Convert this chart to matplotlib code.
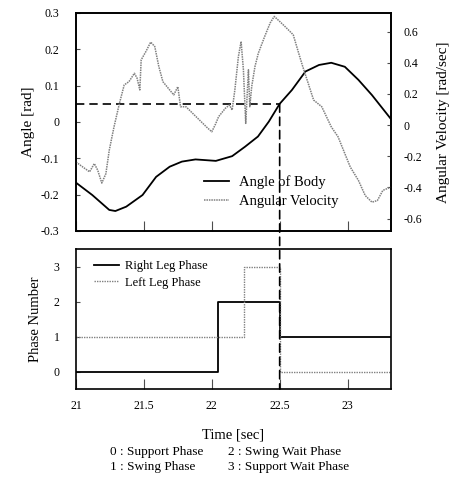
import matplotlib
matplotlib.use("Agg")
import matplotlib.pyplot as plt
from matplotlib.patches import ConnectionPatch

plt.rcParams['font.family'] = ['Liberation Serif', 'DejaVu Serif']
plt.rcParams['axes.unicode_minus'] = False

# Angle of body [rad]
angle_t = [21.0, 21.12, 21.245, 21.29, 21.37, 21.49, 21.59, 21.69, 21.78, 21.88,
           22.03, 22.15, 22.245, 22.34, 22.42, 22.50, 22.59, 22.69, 22.79, 22.88,
           22.98, 23.08, 23.18, 23.32]
angle_v = [-0.167, -0.201, -0.242, -0.245, -0.233, -0.201, -0.151, -0.123, -0.109, -0.103,
           -0.107, -0.094, -0.068, -0.040, 0.001, 0.050, 0.088, 0.139, 0.157, 0.163,
           0.152, 0.116, 0.074, 0.008]

# Angular velocity [rad/sec]
omega_t = [21.0, 21.05, 21.10, 21.135, 21.16, 21.19, 21.22, 21.245, 21.28, 21.32,
           21.355, 21.39, 21.43, 21.45, 21.47, 21.48, 21.515, 21.55, 21.58, 21.61,
           21.64, 21.67, 21.70, 21.72, 21.75, 21.77, 21.81, 21.86, 21.91, 21.96,
           22.0, 22.03, 22.05, 22.10, 22.13, 22.15, 22.17, 22.196, 22.216, 22.233,
           22.25, 22.27, 22.28, 22.294, 22.318, 22.343, 22.39, 22.43, 22.46, 22.50,
           22.55, 22.60, 22.64, 22.67, 22.71, 22.75, 22.81, 22.88, 22.93, 22.98,
           23.02, 23.08, 23.13, 23.18, 23.22, 23.26, 23.32]
omega_v = [-0.237, -0.269, -0.300, -0.247, -0.290, -0.372, -0.312, -0.161, -0.011, 0.140,
           0.258, 0.279, 0.333, 0.301, 0.226, 0.419, 0.473, 0.533, 0.505, 0.376,
           0.279, 0.247, 0.215, 0.194, 0.247, 0.118, 0.118, 0.075, 0.032, -0.011,
           -0.043, 0.011, 0.054, 0.108, 0.129, 0.097, 0.226, 0.440, 0.537, 0.355,
           0.011, 0.355, 0.118, 0.247, 0.376, 0.462, 0.570, 0.656, 0.698, 0.666,
           0.624, 0.580, 0.462, 0.376, 0.269, 0.161, 0.118, -0.011, -0.075, -0.183,
           -0.269, -0.355, -0.452, -0.495, -0.484, -0.419, -0.398]

# Phases (step changes)
right_t = [21.0, 22.046, 22.5, 23.32]
right_p = [0, 2, 1, 1]
left_t = [21.0, 22.24, 22.5, 23.32]
left_p = [1, 3, 0, 0]

marker_t = 22.5
marker_angle = 0.05

x_ticks = [21, 21.5, 22, 22.5, 23]
x_labels = ['21', '21.5', '22', '22.5', '23']
angle_ticks = [0.3, 0.2, 0.1, 0, -0.1, -0.2, -0.3]
angle_labels = ['0.3', '0.2', '0.1', '0', '-0.1', '-0.2', '-0.3']
omega_ticks = [0.6, 0.4, 0.2, 0, -0.2, -0.4, -0.6]
omega_labels = ['0.6', '0.4', '0.2', '0', '-0.2', '-0.4', '-0.6']
phase_ticks = [0, 1, 2, 3]

W, H = 463, 478
fig = plt.figure(figsize=(W / 100, H / 100), dpi=100)

def rect(l, t, r, b):
    return [l / W, 1 - b / H, (r - l) / W, (b - t) / H]

ax1 = fig.add_axes(rect(76, 13, 391, 231))
ax1r = ax1.twinx()
ax2 = fig.add_axes(rect(76, 249, 391, 389))

xmin, xmax = 21.0, 23.32
gray = '0.5'

# Top panel
l1, = ax1.plot(angle_t, angle_v, color='black', lw=1.3, label='Angle of Body')
l2, = ax1r.plot(omega_t, omega_v, color=gray, lw=1.1, ls=(0, (1, 0.6)), label='Angular Velocity')
ax1.plot([xmin, marker_t], [marker_angle, marker_angle], color='black', lw=1.2, ls=(0, (5, 3)))

ax1.set_xlim(xmin, xmax)
ax1.set_ylim(-0.3, 0.3)
ax1r.set_ylim(-0.68, 0.72)
ax1.set_xticks(x_ticks)
ax1.set_xticklabels([])
ax1.set_yticks(angle_ticks)
ax1.set_yticklabels(angle_labels)
ax1r.set_yticks(omega_ticks)
ax1r.set_yticklabels(omega_labels)
ax1.tick_params(axis='x', direction='in', length=7, width=0.8, color='0.3')
ax1.tick_params(axis='y', direction='in', length=3, width=0.8, color='0.3', labelsize=8.5, pad=12)
ax1r.tick_params(axis='y', direction='in', length=3, width=0.8, color='0.3', labelsize=8.5, pad=9)
ax1.set_ylabel('Angle [rad]', fontsize=11, labelpad=4)
ax1r.set_ylabel('Angular Velocity [rad/sec]', fontsize=11, labelpad=11)
ax1.legend(handles=[l1, l2], loc='center left', frameon=False, fontsize=10.5,
           handlelength=1.7, handletextpad=0.7, labelspacing=0.4,
           borderaxespad=0, borderpad=0.4,
           bbox_to_anchor=(198 / W, 1 - 192 / H), bbox_transform=fig.transFigure)

# Bottom panel
l3, = ax2.step(right_t, right_p, where='post', color='black', lw=1.3, label='Right Leg Phase')
l4, = ax2.step(left_t, left_p, where='post', color=gray, lw=1.0, ls=(0, (1, 0.8)), label='Left Leg Phase')
ax2.set_xlim(xmin, xmax)
ax2.set_ylim(-0.5, 3.5)
ax2.set_xticks(x_ticks)
ax2.set_xticklabels(x_labels)
ax2.set_yticks(phase_ticks)
ax2.tick_params(axis='x', direction='in', length=7, width=0.8, color='0.3', labelsize=8.5, pad=8)
ax2.tick_params(axis='y', direction='in', length=3, width=0.8, color='0.3', labelsize=8.5, pad=12)
ax2.set_ylabel('Phase Number', fontsize=10.5, labelpad=8)
ax2.set_xlabel('Time [sec]', fontsize=10.5, labelpad=12)
ax2.legend(handles=[l3, l4], loc='upper left', frameon=False, fontsize=9,
           handlelength=2.0, handletextpad=0.5, labelspacing=0.35,
           bbox_to_anchor=(0.02, 1.0))

for ax in (ax1, ax1r, ax2):
    for s in ax.spines.values():
        s.set_linewidth(1.2)

# Vertical dashed marker across both panels
con = ConnectionPatch(xyA=(marker_t, marker_angle), coordsA=ax1.transData,
                      xyB=(marker_t, -0.5), coordsB=ax2.transData,
                      color='black', lw=1.2, ls=(0, (5, 3)))
fig.add_artist(con)

# Phase legend text
fig.text(110 / W, 1 - 452 / H, '0 : Support Phase', fontsize=9.5, va='center', ha='left')
fig.text(228 / W, 1 - 452 / H, '2 : Swing Wait Phase', fontsize=9.5, va='center', ha='left')
fig.text(110 / W, 1 - 467 / H, '1 : Swing Phase', fontsize=9.5, va='center', ha='left')
fig.text(228 / W, 1 - 467 / H, '3 : Support Wait Phase', fontsize=9.5, va='center', ha='left')

fig.savefig('out.png', dpi=100)
